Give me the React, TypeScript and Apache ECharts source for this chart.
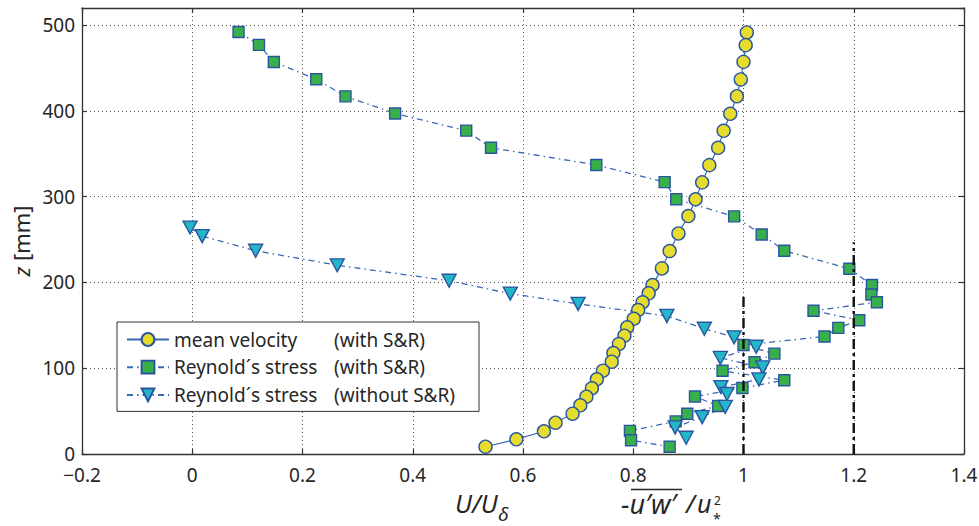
import React, { useEffect, useRef } from "react";
import * as echarts from "echarts";

// ---- data ----
const zVelocity = [491.5, 476.7, 457.2, 436.7, 417.2, 396.6, 376.8, 357.0, 336.8, 316.7, 296.9, 277.4, 257.2, 236.6, 216.4, 197.0, 187.3, 176.8, 167.8, 157.7, 147.7, 137.9, 128.2, 117.7, 107.6, 97.1, 87.1, 76.6, 66.8, 56.8, 47.0, 36.5, 26.5, 17.1, 8.5];
const velocity = [1.006, 1.004, 1.0, 0.995, 0.988, 0.976, 0.964, 0.954, 0.938, 0.925, 0.913, 0.9, 0.882, 0.866, 0.852, 0.835, 0.828, 0.817, 0.809, 0.801, 0.789, 0.784, 0.774, 0.764, 0.761, 0.745, 0.734, 0.725, 0.715, 0.704, 0.69, 0.659, 0.638, 0.588, 0.532];

const zStressSR = [492, 477, 457, 437, 417, 397, 377, 357, 337, 317, 297, 277, 256, 237, 216, 197, 186, 177, 167, 156, 147, 137, 127, 117, 107, 97, 86, 77, 67, 56, 47, 38, 27, 16, 8.5];
const stressSR = [0.084, 0.121, 0.148, 0.225, 0.278, 0.368, 0.497, 0.542, 0.733, 0.857, 0.878, 0.983, 1.033, 1.074, 1.192, 1.233, 1.232, 1.242, 1.127, 1.21, 1.172, 1.147, 1.0, 1.056, 1.02, 0.962, 1.074, 0.998, 0.912, 0.954, 0.898, 0.877, 0.794, 0.796, 0.866];

const zStressNoSR = [264, 254, 237, 220, 202, 187, 175, 161, 146, 136, 125, 112, 101, 87, 78, 70, 55, 43, 31, 19];
const stressNoSR = [-0.004, 0.018, 0.115, 0.263, 0.466, 0.577, 0.7, 0.861, 0.929, 0.983, 1.023, 0.958, 1.035, 1.028, 0.959, 0.97, 0.967, 0.925, 0.876, 0.896];

const refX = [1, 1.2];
const refTop = [187, 247];

const seriesNames = [
  "mean velocity (with S&R)",
  "Reynold´s stress (with S&R)",
  "Reynold´s stress (without S&R)",
];

const xMin = -0.2;
const xMax = 1.4;
const xStep = 0.2;
const yMin = 0;
const yMax = 520;
const yStep = 100;

// ---- styles ----
const FONT = "'Noto Sans', 'Open Sans', sans-serif";
const TEXT = "#262626";
const LINE = "#3a68b4";
const EDGE = "#2a56a0";
const YELLOW = "#e6dc2e";
const GREEN = "#37b04b";
const CYAN = "#22b6c8";
const DASHDOT = [6, 4, 1.5, 4];
const GRID = { show: true, lineStyle: { color: "#555", width: 1, type: [1, 3] } };

const pair = (xs: number[], ys: number[]) => xs.map((x, i) => [x, ys[i]]);

const fmtX = (v: number) => {
  const r = Math.round(v * 10) / 10;
  return r < 0 ? "\u2212" + Math.abs(r) : String(r);
};

export default function App() {
  const ref = useRef<HTMLDivElement>(null);

  useEffect(() => {
    document.body.style.margin = "0";
    if (!ref.current) return;
    const chart = echarts.init(ref.current, undefined, { renderer: "svg" });

    const axisCommon = {
      axisLine: { show: true, onZero: false, lineStyle: { color: "#333", width: 1.3 } },
      axisTick: { show: true, inside: true, length: 5, lineStyle: { color: "#333", width: 1.2 } },
    };

    const italic = (text: string, x: number, y: number, size: number) => ({
      type: "text",
      x,
      y,
      style: { text, fontFamily: FONT, fontSize: size, fontStyle: "italic", fill: TEXT, align: "left", verticalAlign: "middle" },
    });

    const option: any = {
      animation: false,
      backgroundColor: "#fff",
      grid: { left: 82, right: 15, top: 8, bottom: 72, containLabel: false, outerBoundsMode: "none" },
      xAxis: [
        {
          type: "value",
          min: xMin,
          max: xMax,
          interval: xStep,
          position: "bottom",
          ...axisCommon,
          axisLabel: { formatter: fmtX, fontFamily: FONT, fontSize: 19, color: TEXT, margin: 11 },
          splitLine: GRID,
        },
        {
          type: "value",
          min: xMin,
          max: xMax,
          interval: xStep,
          position: "top",
          ...axisCommon,
          axisLabel: { show: false },
          splitLine: { show: false },
        },
      ],
      yAxis: [
        {
          type: "value",
          min: yMin,
          max: yMax,
          interval: yStep,
          position: "left",
          ...axisCommon,
          axisLabel: { fontFamily: FONT, fontSize: 19, color: TEXT, margin: 7, showMaxLabel: false },
          splitLine: GRID,
        },
        {
          type: "value",
          min: yMin,
          max: yMax,
          interval: yStep,
          position: "right",
          ...axisCommon,
          axisLabel: { show: false },
          splitLine: { show: false },
        },
      ],
      legend: {
        data: seriesNames,
        orient: "vertical",
        left: 117,
        top: 322,
        backgroundColor: "#fff",
        borderColor: "#333",
        borderWidth: 1,
        padding: [8, 24, 7, 9],
        itemGap: 8.7,
        itemWidth: 42,
        itemHeight: 16,
        formatter: (name: string) => {
          const k = name.indexOf(" (");
          return "{a|" + name.slice(0, k) + "}{b|" + name.slice(k + 1) + "}";
        },
        textStyle: {
          fontFamily: FONT,
          fontSize: 19,
          color: TEXT,
          rich: {
            a: { width: 160, fontFamily: FONT, fontSize: 19, color: TEXT, lineHeight: 20 },
            b: { fontFamily: FONT, fontSize: 19, color: TEXT, lineHeight: 20 },
          },
        },
      },
      series: [
        {
          name: seriesNames[0],
          type: "line",
          data: pair(velocity, zVelocity),
          symbol: "circle",
          symbolSize: 13,
          showAllSymbol: true,
          lineStyle: { color: LINE, width: 1.2, type: "solid" },
          itemStyle: { color: YELLOW, borderColor: EDGE, borderWidth: 1.4 },
        },
        {
          name: seriesNames[1],
          type: "line",
          data: pair(stressSR, zStressSR),
          symbol: "rect",
          symbolSize: 11,
          showAllSymbol: true,
          lineStyle: { color: LINE, width: 1.3, type: DASHDOT },
          itemStyle: { color: GREEN, borderColor: EDGE, borderWidth: 1.4 },
        },
        {
          name: seriesNames[2],
          type: "line",
          data: pair(stressNoSR, zStressNoSR),
          symbol: "triangle",
          symbolRotate: 180,
          symbolSize: [14, 13],
          showAllSymbol: true,
          lineStyle: { color: LINE, width: 1.3, type: DASHDOT },
          itemStyle: { color: CYAN, borderColor: EDGE, borderWidth: 1.4 },
        },
        ...refX.map((x, i) => ({
          name: "ref" + i,
          type: "line",
          data: [
            [x, 0],
            [x, refTop[i]],
          ],
          symbol: "none",
          silent: true,
          z: 5,
          lineStyle: { color: "#111", width: 2.4, type: [10, 4, 3, 4] },
        })),
      ],
      graphic: [
        {
          type: "text",
          x: 21,
          y: 241,
          rotation: Math.PI / 2,
          style: {
            text: "{i|z} [mm]",
            fontFamily: FONT,
            fontSize: 22,
            fill: TEXT,
            align: "center",
            verticalAlign: "middle",
            rich: { i: { fontFamily: FONT, fontSize: 22, fontStyle: "italic", fill: TEXT } },
          },
        },
        italic("U/U", 455, 503, 25),
        italic("δ", 498, 514, 19),
        italic("-u′w′", 621, 503, 27),
        {
          type: "line",
          shape: { x1: 631, y1: 489.5, x2: 682, y2: 489.5 },
          style: { stroke: TEXT, lineWidth: 1.5 },
        },
        italic("/", 686, 503, 25),
        italic("u", 697, 503, 25),
        {
          type: "text",
          x: 714,
          y: 500,
          style: { text: "2", fontFamily: FONT, fontSize: 12, fill: TEXT, align: "left", verticalAlign: "middle" },
        },
        {
          type: "text",
          x: 713,
          y: 518,
          style: { text: "*", fontFamily: FONT, fontSize: 14, fill: TEXT, align: "left", verticalAlign: "middle" },
        },
      ],
    };

    chart.setOption(option);
    return () => chart.dispose();
  }, []);

  return <div ref={ref} style={{ width: 979, height: 526 }} />;
}
